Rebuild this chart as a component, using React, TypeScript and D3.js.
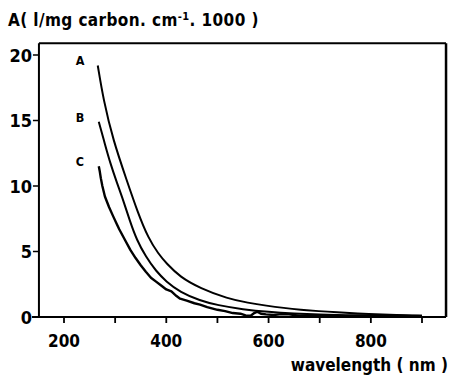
import React from "react";
import * as d3 from "d3";

const xTicks = [200, 300, 400, 500, 600, 700, 800, 900];
const xTickLabels = ["200", "400", "600", "800"];
const yTicks = [0, 5, 10, 15, 20];

const wlA = [266, 277, 296, 323, 344, 365, 385, 400, 427, 466, 520, 560, 596, 630, 662, 700, 726, 800, 850, 900];
const valA = [19.2, 16.6, 13.5, 10.4, 8.0, 6.0, 4.8, 4.1, 3.05, 2.2, 1.4, 1.08, 0.86, 0.69, 0.56, 0.44, 0.37, 0.22, 0.15, 0.1];

const wlB = [268, 280, 290, 303, 316, 329, 342, 360, 380, 400, 427, 466, 500, 550, 600, 650, 700, 750, 800, 850, 900];
const valB = [14.9, 13.2, 11.8, 10.3, 8.9, 7.3, 5.9, 4.6, 3.5, 2.7, 1.9, 1.25, 0.9, 0.58, 0.38, 0.26, 0.18, 0.13, 0.1, 0.08, 0.06];

const wlC = [268, 270, 272, 275, 280, 284, 288, 296, 302, 308, 319, 330, 340, 350, 360, 370, 380, 390, 400, 410, 420, 427, 440, 455, 466, 480, 500, 515, 530, 545, 555, 565, 572, 578, 585, 595, 610, 625, 640, 660, 680, 700, 720, 750, 780, 820, 850, 880, 900];
const valC = [11.5, 11.1, 10.6, 10.0, 9.2, 8.8, 8.4, 7.7, 7.2, 6.7, 5.9, 5.1, 4.5, 3.95, 3.45, 3.0, 2.7, 2.4, 2.1, 1.95, 1.6, 1.4, 1.25, 1.05, 0.95, 0.75, 0.55, 0.45, 0.3, 0.25, 0.12, 0.1, 0.3, 0.4, 0.25, 0.2, 0.15, 0.22, 0.2, 0.1, 0.12, 0.1, 0.12, 0.08, 0.1, 0.08, 0.1, 0.07, 0.08];

const curveLabels = ["A", "B", "C"];

const FONT = "'DejaVu Sans Condensed', 'DejaVu Sans', sans-serif";

export default function App() {
  const x = d3.scaleLinear().domain([200, 900]).range([64, 422]);
  const y = d3.scaleLinear().domain([0, 20]).range([317, 55]);
  const left = x(151);
  const right = x(947);
  const top = y(20.9);
  const bottom = y(0);

  const smooth = d3
    .line<[number, number]>()
    .x((d) => x(d[0]))
    .y((d) => y(d[1]))
    .curve(d3.curveBasis);
  const rough = d3
    .line<[number, number]>()
    .x((d) => x(d[0]))
    .y((d) => y(d[1]))
    .curve(d3.curveLinear);

  const dataA = wlA.map((w, i) => [w, valA[i]] as [number, number]);
  const dataB = wlB.map((w, i) => [w, valB[i]] as [number, number]);
  const dataC = wlC.map((w, i) => [w, valC[i]] as [number, number]);

  const labelPos = [valA[0], valB[0], valC[0]];

  return (
    <svg
      width={451}
      height={376}
      style={{ position: "absolute", left: 0, top: 0, background: "#fff" }}
      fontFamily={FONT}
    >
      <rect x={0} y={0} width={451} height={376} fill="#fff" />
      {/* Title */}
      <text x={8} y={26} fontSize={17} fontWeight="bold" fill="#000" letterSpacing={0.4}>
        A( l/mg carbon. cm
        <tspan dy={-6} fontSize={11}>-1</tspan>
        <tspan dy={6}>. 1000 )</tspan>
      </text>

      {/* Box */}
      <line x1={left} y1={top} x2={right} y2={top} stroke="#000" strokeWidth={2} />
      <line x1={right} y1={top} x2={right} y2={bottom} stroke="#000" strokeWidth={2.5} />
      <line x1={left} y1={top} x2={left} y2={bottom} stroke="#000" strokeWidth={2} />
      <line x1={left - 7} y1={bottom} x2={right} y2={bottom} stroke="#000" strokeWidth={2} />

      {/* Y ticks */}
      {yTicks.map((t) => (
        <g key={"y" + t}>
          <line x1={left - 6} y1={y(t)} x2={left} y2={y(t)} stroke="#000" strokeWidth={1.5} />
          <text
            x={left - 7}
            y={y(t) + 6.5}
            textAnchor="end"
            fontSize={18}
            fontWeight="bold"
            fill="#000"
          >
            {t}
          </text>
        </g>
      ))}

      {/* X ticks */}
      {xTicks.map((t) => (
        <line key={"x" + t} x1={x(t)} y1={bottom} x2={x(t)} y2={bottom + 6} stroke="#000" strokeWidth={1.8} />
      ))}
      {xTickLabels.map((t) => (
        <text
          key={"xl" + t}
          x={x(+t)}
          y={347}
          textAnchor="middle"
          fontSize={17}
          fontWeight="bold"
          fill="#000"
        >
          {t}
        </text>
      ))}
      <text x={448} y={371} textAnchor="end" fontSize={17} fontWeight="bold" fill="#000">
        wavelength ( nm )
      </text>

      {/* Curves */}
      <path d={smooth(dataA) || ""} fill="none" stroke="#000" strokeWidth={2} />
      <path d={smooth(dataB) || ""} fill="none" stroke="#000" strokeWidth={2} />
      <path d={rough(dataC) || ""} fill="none" stroke="#000" strokeWidth={2.4} strokeLinejoin="round" />

      {curveLabels.map((c, i) => (
        <text
          key={c}
          x={80}
          y={y(labelPos[i]) + 0}
          textAnchor="middle"
          fontSize={12.5}
          fontWeight="bold"
          fill="#000"
        >
          {c}
        </text>
      ))}
    </svg>
  );
}
